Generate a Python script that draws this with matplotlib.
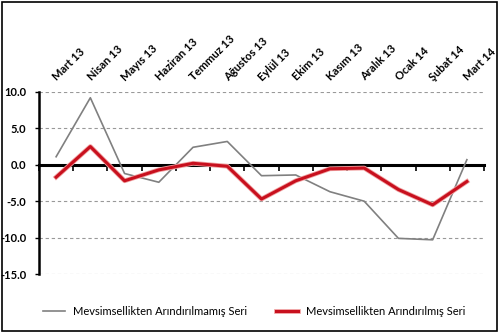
import matplotlib
matplotlib.use("Agg")
import matplotlib.pyplot as plt
import matplotlib.patheffects as pe
import matplotlib.transforms as mtransforms
from matplotlib.patches import Rectangle
import numpy as np

categories = ["Mart 13", "Nisan 13", "Mayıs 13", "Haziran 13", "Temmuz 13", "Ağustos 13",
              "Eylül 13", "Ekim 13", "Kasım 13", "Aralık 13", "Ocak 14", "Şubat 14", "Mart 14"]
raw_series = [1.1, 9.2, -1.2, -2.4, 2.4, 3.2, -1.5, -1.4, -3.7, -5.0, -10.1, -10.3, 0.7]
adj_series = [-1.7, 2.5, -2.2, -0.7, 0.2, -0.2, -4.7, -2.2, -0.55, -0.45, -3.4, -5.5, -2.3]
raw_label = "Mevsimsellikten Arındırılmamış Seri"
adj_label = "Mevsimsellikten Arındırılmış Seri"
yticks = [-15, -10, -5, 0, 5, 10]

plt.rcParams['font.family'] = ['Lato', 'DejaVu Sans']

fig = plt.figure(figsize=(5.0, 3.33), dpi=100)
ax = fig.add_axes([0.078, 0.177, 0.890, 0.547])

x = np.arange(len(categories))
ax.plot(x, raw_series, color='#808080', lw=1.2, label=raw_label, zorder=3)
ax.plot(x, adj_series, color='#C8101E', lw=2.2, label=adj_label, zorder=4,
        path_effects=[pe.Stroke(linewidth=3.4, foreground='#F0A0A0'), pe.Normal()])

ax.set_xlim(-0.5, len(categories) - 0.5)
ax.set_ylim(-15, 10)

for v in yticks:
    if v != 0:
        ax.axhline(v, color='#999999', lw=0.8, ls=(0, (3, 2.5)), zorder=1)

ax.set_yticks(yticks)
ax.set_yticklabels([f"{v:.1f}" for v in yticks], fontweight='bold', fontsize=8)
ax.tick_params(axis='y', direction='out', length=3, width=1, pad=6)

ax.set_xticks(np.arange(len(categories) + 1) - 0.5)
ax.set_xticklabels([])
ax.tick_params(axis='x', bottom=True, top=False, direction='out', length=4, width=1.2)

trans = mtransforms.blended_transform_factory(ax.transData, ax.transAxes) + \
    mtransforms.ScaledTranslation(2 / 72, 6.5 / 72, fig.dpi_scale_trans)
for xi, name in zip(x, categories):
    ax.text(xi, 1.0, name, transform=trans, rotation=45, rotation_mode='anchor',
            ha='left', va='bottom', fontsize=8, fontweight='bold', clip_on=False)

for s in ['top', 'right']:
    ax.spines[s].set_visible(False)
ax.spines['left'].set_linewidth(1.8)
ax.spines['bottom'].set_position(('data', 0))
ax.spines['bottom'].set_linewidth(2.2)
ax.spines['bottom'].set_zorder(2)

fig.legend(loc='center', bbox_to_anchor=(0.508, 0.066), ncol=2, frameon=False,
           fontsize=8, handlelength=2.0, columnspacing=2.6, handletextpad=0.7)

fig.patches.append(Rectangle((0.004, 0.006), 0.990, 0.988, transform=fig.transFigure,
                             fill=False, edgecolor='black', lw=1.2))

fig.savefig("out.png", dpi=100)
